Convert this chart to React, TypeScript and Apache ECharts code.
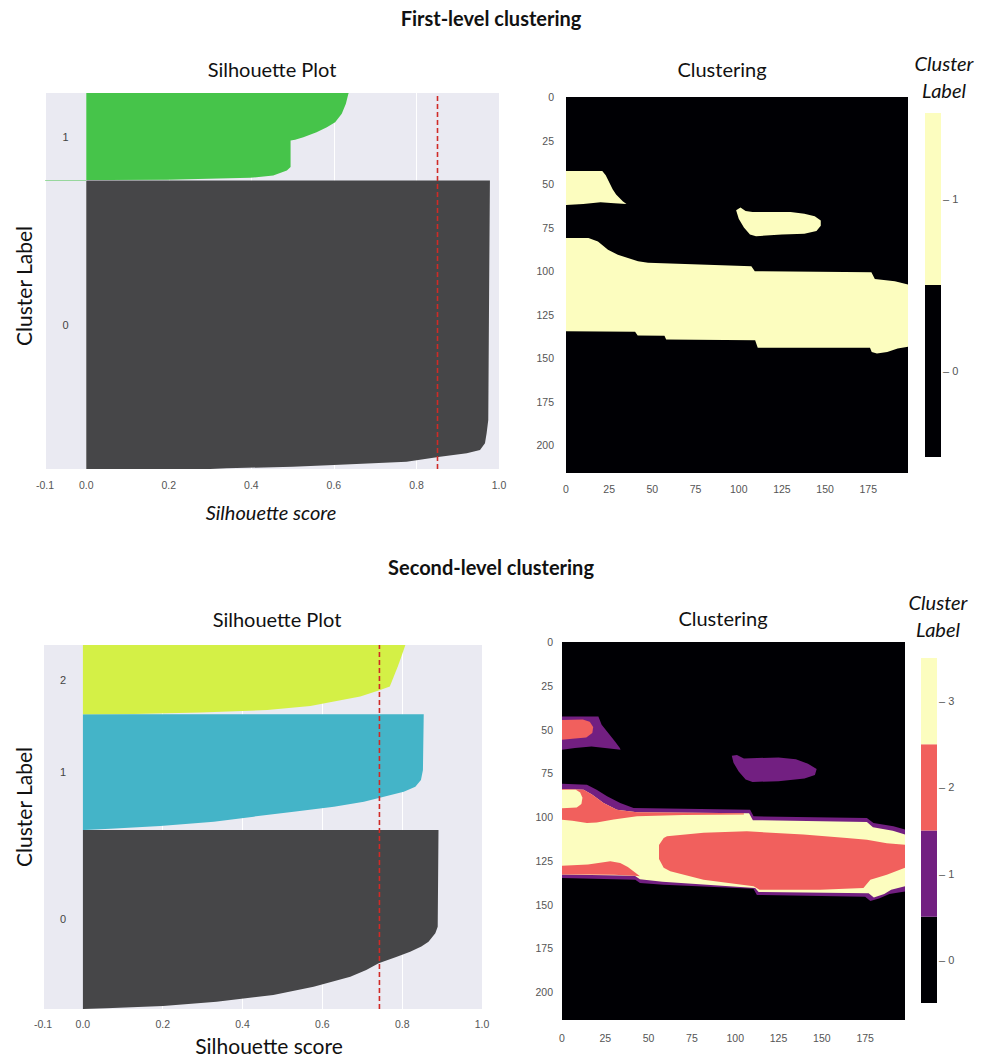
import React, { useEffect, useRef } from 'react';
import * as echarts from 'echarts';

// ---------------- Silhouette plots ----------------
const SIL_X_TICKS = [-0.1, 0, 0.2, 0.4, 0.6, 0.8, 1.0];

// first level: cluster sizes (samples) and sorted silhouette edges [rank in cluster, score]
const SIL1_SIZES = [33000, 10000];
const SIL1_C0 = [[0, 0.3], [76, 0.34], [267, 0.5], [457, 0.6], [648, 0.695], [838, 0.776], [1410, 0.857], [1791, 0.922], [2172, 0.954], [2934, 0.966], [4077, 0.97], [5600, 0.974], [20000, 0.976], [33000, 0.978]];
const SIL1_C1 = [[0, -0.12], [40, -0.12], [45, 0.05], [76, 0.195], [305, 0.397], [571, 0.453], [1143, 0.486], [1524, 0.495], [4572, 0.495], [4648, 0.506], [4953, 0.526], [5524, 0.558], [6096, 0.583], [6668, 0.603], [7620, 0.619], [8763, 0.629], [9906, 0.635], [10000, 0.636]];
const SIL1_COLORS = ['#464648', '#46c44a'];
const SIL1_AVG = 0.851;

// second level
const SIL2_SIZES = [21050, 13600, 8150];
const SIL2_C0 = [[0, 0.0], [78, 0.059], [353, 0.201], [862, 0.335], [1646, 0.477], [2626, 0.578], [3802, 0.67], [4600, 0.71], [5370, 0.741], [6100, 0.785], [6742, 0.82], [7350, 0.848], [7918, 0.866], [8898, 0.883], [9682, 0.889], [21050, 0.891]];
const SIL2_C1 = [[0, 0.0025], [157, 0.069], [470, 0.194], [980, 0.328], [1568, 0.428], [2156, 0.528], [2744, 0.629], [3332, 0.704], [3920, 0.754], [4508, 0.804], [5096, 0.833], [5880, 0.847], [7056, 0.852], [13600, 0.854]];
const SIL2_C2 = [[0, 0.0], [40, 0.128], [200, 0.295], [512, 0.462], [983, 0.57], [1492, 0.629], [2080, 0.695], [2864, 0.745], [3256, 0.769], [4432, 0.779], [5608, 0.789], [6784, 0.798], [8150, 0.808]];
const SIL2_COLORS = ['#464648', '#44b4c8', '#d4f046'];
const SIL2_AVG = 0.743;

// ---------------- Clustering images (label regions, image pixel coords) ----------------
const IMG_W = 198;
const IMG_H = 216;
const IMG_TICK_STEP = 25;
const FULL_IMG = [[0, 0], [198, 0], [198, 216], [0, 216]];

const L1_BAND = [[0, 81], [13, 81], [18.5, 83], [24.3, 87.7], [30, 90.6], [41.7, 94.4], [47.5, 95.2], [107.3, 97.2], [109.3, 100.1], [176.8, 100.7], [178.8, 104.5], [190.4, 105.8], [198, 107.7],
  [198, 143.5], [192, 144.5], [186, 146.5], [180, 147.3], [177, 146.5], [176, 144], [111, 144], [109.5, 139.8], [58, 139.3], [57, 137.2], [41.5, 137], [40, 134.8], [0, 134.5]];
const L1_BLOB_A = [[0, 42.5], [21, 42.5], [23, 45], [25, 49], [27, 53], [29, 56], [31, 58], [33, 60], [35, 61.5], [28, 61], [20, 60.5], [10, 61.5], [0, 62]];
const L1_BLOB_B = [[98.5, 65], [101, 63.5], [104, 65.5], [108, 66], [130, 66], [138, 67], [144, 68.5], [147.5, 71], [147.5, 74], [145, 77], [138, 78.5], [125, 79], [110, 80], [106.5, 79], [103, 75], [100, 70]];
const L1_LABELS = [0, 1, 1, 1];
const L1_SHAPES = [FULL_IMG, L1_BAND, L1_BLOB_A, L1_BLOB_B];
const CMAP1 = ['#000004', '#fcfdbf'];

const L2_BAND_OUTER = [[0, 81], [14.4, 81.5], [20, 84.4], [26, 88.2], [33.6, 92], [41.3, 94.9], [108.6, 95.8], [110.6, 99.6], [176, 100.6], [179.8, 103.4], [191.3, 105.3], [198, 107.2],
  [198, 142.5], [189, 144], [183, 146.5], [178, 148], [175, 145.5], [112.5, 144.5], [110.5, 141], [58.7, 138.7], [45, 137.7], [42.3, 135.8], [0, 134.8]];
const L2_BAND_INNER = [[0, 84], [12.5, 84.4], [17.3, 87.2], [24, 92], [31.7, 95.8], [43.3, 97.3], [108, 97.8], [110.2, 101.8], [176, 102.8], [179.5, 105.8], [191, 107.8], [198, 110],
  [198, 139.5], [190, 141.5], [186, 144], [180, 146], [177, 143.5], [113.5, 142.8], [111.5, 140.5], [58, 137], [45, 135.5], [42, 133.5], [0, 132.8]];
const L2_UPPER_SALMON = [[0, 84], [12.5, 84.4], [17.3, 87.2], [24, 92], [31.7, 95.8], [43.3, 97.3], [75, 97.6], [105, 97.8], [105, 98.6], [70, 98.8], [43.3, 99.6], [29.8, 101.4], [20, 103.2], [14.4, 103.4], [6, 102.2], [0, 101.5]];
const L2_SMALL_CREAM = [[0, 84.4], [8, 84.4], [10.5, 86], [11.8, 89], [11.2, 92.5], [8.5, 94.6], [0, 95]];
const L2_LOWER_SALMON = [[0, 127.8], [15, 127.2], [27.9, 125.3], [33.6, 126.3], [38, 128.5], [42, 131.5], [45, 133.8], [42, 133.5], [30, 133], [15, 132.8], [0, 132.8]];
const L2_BIG_SALMON = [[56, 116], [58.7, 112], [60.6, 111], [81.7, 109], [106.7, 108.2], [139.4, 110], [164.4, 112], [176, 113], [187.5, 115], [198, 115.8], [198, 129], [187.5, 133], [178, 135.8], [174, 140.6], [149, 141.5], [114, 141.5], [110.6, 139.6], [81.7, 135.8], [62.5, 131], [58.7, 129], [56, 124]];
const L2_BLOB_A = [[0, 42.5], [21, 42.5], [22.9, 47.3], [26.7, 52], [30.6, 56.8], [33.4, 60.6], [33.8, 61.5], [24.8, 60.6], [17, 59.7], [7.5, 60.6], [0, 61.6]];
const L2_BLOB_A_CORE = [[0, 44.5], [12, 44.3], [16, 45.5], [18, 48.5], [17.5, 52], [14, 54.5], [6, 55.3], [0, 55.8]];
const L2_BLOB_B = [[98, 65], [101, 64.5], [105, 66.5], [125, 66], [135, 67], [142, 69.5], [147, 72.5], [146, 76], [140, 78], [125, 79.5], [110, 80], [106, 78.5], [102, 74], [99, 69]];
const L2_LABELS = [0, 1, 3, 2, 3, 2, 2, 1, 2, 1];
const L2_SHAPES = [FULL_IMG, L2_BAND_OUTER, L2_BAND_INNER, L2_UPPER_SALMON, L2_SMALL_CREAM, L2_LOWER_SALMON, L2_BIG_SALMON, L2_BLOB_A, L2_BLOB_A_CORE, L2_BLOB_B];
const CMAP2 = ['#000004', '#721f81', '#f1605d', '#fcfdbf'];

const CB1_LEVELS = ['0', '1'];
const CB2_LEVELS = ['0', '1', '2', '3'];

// ---------------- layout ----------------
const TITLE_FONT = 'Lato, "Open Sans", sans-serif';
const TICK_FONT = '"Liberation Sans", Arial, sans-serif';
const TICK_COLOR = '#555';

const GRIDS = [
  { left: 45, top: 93, width: 454, height: 376 },   // sil1
  { left: 566, top: 97, width: 342, height: 376 },  // img1
  { left: 925, top: 113, width: 16, height: 344 },  // cbar1
  { left: 43, top: 645, width: 439, height: 364 },  // sil2
  { left: 562, top: 642, width: 343, height: 378 }, // img2
  { left: 921, top: 658, width: 16, height: 345 },  // cbar2
];

function silAxes(gi: number, total: number, margin: number) {
  const x = {
    gridIndex: gi, type: 'value', min: -0.1, max: 1.0,
    axisLine: { show: false },
    axisTick: { show: false, customValues: SIL_X_TICKS },
    axisLabel: { customValues: SIL_X_TICKS, formatter: (v: number) => v.toFixed(1), color: TICK_COLOR, fontSize: 10.5, fontFamily: TICK_FONT, margin },
    splitLine: { show: true, lineStyle: { color: '#ffffff', width: 1 } },
  };
  const y = {
    gridIndex: gi, type: 'value', min: 0, max: total,
    axisLine: { show: false }, axisTick: { show: false }, axisLabel: { show: false }, splitLine: { show: false },
  };
  return { x, y };
}

function imgAxes(gi: number, xMargin: number, yMargin: number) {
  const common = {
    axisLine: { show: false }, axisTick: { show: false }, splitLine: { show: false },
  };
  const x = {
    gridIndex: gi, type: 'value', min: 0, max: IMG_W, interval: IMG_TICK_STEP, ...common,
    axisLabel: { showMaxLabel: false, color: TICK_COLOR, fontSize: 10.5, fontFamily: TICK_FONT, margin: xMargin },
  };
  const y = {
    gridIndex: gi, type: 'value', min: 0, max: IMG_H, interval: IMG_TICK_STEP, inverse: true, ...common,
    axisLabel: { showMaxLabel: false, color: TICK_COLOR, fontSize: 10.5, fontFamily: TICK_FONT, margin: yMargin },
  };
  return { x, y };
}

function cbAxes(gi: number, levels: string[]) {
  const x = { gridIndex: gi, type: 'value', min: 0, max: 1, show: false };
  const y = {
    gridIndex: gi, type: 'category', data: levels, position: 'right',
    axisLine: { show: false },
    axisTick: { show: false },
    axisLabel: { margin: 2, color: TICK_COLOR, fontSize: 11, fontFamily: TICK_FONT, formatter: (v: string) => '\u2013 ' + v },
    splitLine: { show: false },
  };
  return { x, y };
}

function silSeries(gi: number, sizes: number[], edges: number[][][], colors: string[]) {
  return {
    type: 'custom', xAxisIndex: gi, yAxisIndex: gi, clip: true, silent: true,
    data: sizes.map((s, i) => [i, s]),
    renderItem: (params: any, api: any) => {
      const k = params.dataIndex;
      let start = 0;
      for (let i = 0; i < k; i++) start += sizes[i];
      const size = sizes[k];
      const pts = [api.coord([0, start])]
        .concat(edges[k].map(([r, v]) => api.coord([v, start + r])))
        .concat([api.coord([0, start + size])]);
      const lab = api.coord([-0.05, start + size / 2]);
      return {
        type: 'group',
        children: [
          { type: 'polygon', shape: { points: pts }, style: { fill: colors[k] } },
          { type: 'text', x: lab[0], y: lab[1], style: { text: String(k), fill: '#444', fontSize: 11, fontFamily: TICK_FONT, align: 'center', verticalAlign: 'middle' } },
        ],
      };
    },
  };
}

function avgLine(gi: number, avg: number, total: number) {
  return {
    type: 'line', xAxisIndex: gi, yAxisIndex: gi, silent: true, symbol: 'none',
    data: [[avg, 0], [avg, total]],
    lineStyle: { color: '#d02a26', width: 1.6, type: [5, 3] },
    z: 5,
  };
}

function regionSeries(gi: number, shapes: number[][][], labels: number[], cmap: string[]) {
  return {
    type: 'custom', xAxisIndex: gi, yAxisIndex: gi, clip: true, silent: true,
    data: labels.map((l, i) => [i, l]),
    renderItem: (params: any, api: any) => {
      const i = params.dataIndex;
      return {
        type: 'polygon',
        shape: { points: shapes[i].map((p) => api.coord(p)) },
        style: { fill: cmap[labels[i]] },
      };
    },
  };
}

function cbSeries(gi: number, levels: string[], cmap: string[]) {
  return {
    type: 'bar', xAxisIndex: gi, yAxisIndex: gi, silent: true, barWidth: '100%',
    data: levels.map((_, i) => ({ value: 1, itemStyle: { color: cmap[i] } })),
  };
}

function txt(text: string, x: number, y: number, font: string, rotation = 0, lineHeight?: number) {
  return {
    type: 'text', x, y, rotation, silent: true,
    style: { text, font, fill: '#111', align: 'center', verticalAlign: 'middle', lineHeight },
  };
}

export default function App() {
  const ref = useRef<HTMLDivElement>(null);
  useEffect(() => {
    if (!ref.current) return;
    const chart = echarts.init(ref.current, null, { renderer: 'svg' });
    const total1 = SIL1_SIZES.reduce((a, b) => a + b, 0);
    const total2 = SIL2_SIZES.reduce((a, b) => a + b, 0);
    const a0 = silAxes(0, total1, 10);
    const a1 = imgAxes(1, 10, 12);
    const a2 = cbAxes(2, CB1_LEVELS);
    const a3 = silAxes(3, total2, 9);
    const a4 = imgAxes(4, 12, 9);
    const a5 = cbAxes(5, CB2_LEVELS);
    const grids = GRIDS.map((g, i) => ({
      ...g, containLabel: false,
      show: i === 0 || i === 3, backgroundColor: '#eaeaf2', borderWidth: 0,
    }));
    chart.setOption({
      animation: false,
      backgroundColor: '#ffffff',
      grid: grids,
      xAxis: [a0.x, a1.x, a2.x, a3.x, a4.x, a5.x],
      yAxis: [a0.y, a1.y, a2.y, a3.y, a4.y, a5.y],
      series: [
        silSeries(0, SIL1_SIZES, [SIL1_C0, SIL1_C1], SIL1_COLORS),
        avgLine(0, SIL1_AVG, total1),
        regionSeries(1, L1_SHAPES, L1_LABELS, CMAP1),
        cbSeries(2, CB1_LEVELS, CMAP1),
        silSeries(3, SIL2_SIZES, [SIL2_C0, SIL2_C1, SIL2_C2], SIL2_COLORS),
        avgLine(3, SIL2_AVG, total2),
        regionSeries(4, L2_SHAPES, L2_LABELS, CMAP2),
        cbSeries(5, CB2_LEVELS, CMAP2),
      ],
      graphic: [
        txt('First-level clustering', 491, 18, `bold 20px ${TITLE_FONT}`),
        txt('Silhouette Plot', 272, 69, `20px ${TITLE_FONT}`),
        txt('Clustering', 722, 69, `20px ${TITLE_FONT}`),
        txt('Cluster\nLabel', 944, 76, `italic 20px ${TITLE_FONT}`, 0, 27),
        txt('Cluster Label', 23, 286, `21px ${TITLE_FONT}`, Math.PI / 2),
        txt('Silhouette score', 271, 512, `italic 20px ${TITLE_FONT}`),
        txt('Second-level clustering', 491, 567, `bold 20px ${TITLE_FONT}`),
        txt('Silhouette Plot', 277, 619, `20px ${TITLE_FONT}`),
        txt('Clustering', 723, 618, `20px ${TITLE_FONT}`),
        txt('Cluster\nLabel', 938, 615, `italic 20px ${TITLE_FONT}`, 0, 27),
        txt('Cluster Label', 23, 807, `21px ${TITLE_FONT}`, Math.PI / 2),
        txt('Silhouette score', 269, 1045, `21px ${TITLE_FONT}`),
      ],
    });
    return () => chart.dispose();
  }, []);
  return <div ref={ref} style={{ position: 'absolute', left: 0, top: 0, width: 982, height: 1056 }} />;
}
